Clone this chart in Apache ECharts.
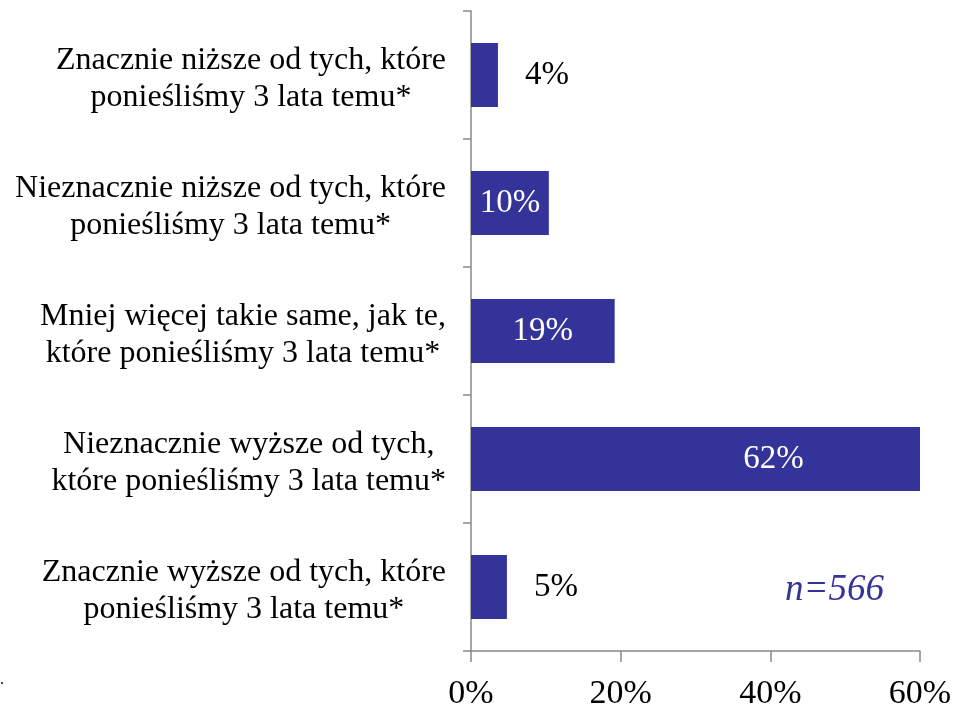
<!DOCTYPE html>
<html>
<head>
<meta charset="utf-8">
<script src="https://cdn.jsdelivr.net/npm/echarts@6/dist/echarts.min.js"></script>
<style>
html,body{margin:0;padding:0;background:#fff;}
#main{width:957px;height:711px;}
</style>
</head>
<body>
<div id="main"></div>
<script>
const categories = [
  'Znacznie niższe od tych, które\nponieśliśmy 3 lata temu*',
  'Nieznacznie niższe od tych, które\nponieśliśmy 3 lata temu*',
  'Mniej więcej takie same, jak te,\nktóre ponieśliśmy 3 lata temu*',
  'Nieznacznie wyższe od tych,\nktóre ponieśliśmy 3 lata temu*',
  'Znacznie wyższe od tych, które\nponieśliśmy 3 lata temu*'
];
const values = [3.6, 10.4, 19.2, 62, 4.8];
const xTicks = [0, 20, 40, 60];
const sampleNote = 'n=566';

const FONT = "'Liberation Serif', 'Times New Roman', serif";
const BAR = '#333399';

const seriesData = values.map(function (v, i) {
  const outside = v < 8;
  let label;
  if (outside) {
    label = { position: 'right', distance: 27, color: '#000' };
  } else if (v > xTicks[xTicks.length - 1]) {
    label = { position: 'inside', color: '#fff', offset: [78, 0] };
  } else {
    label = { position: 'inside', color: '#fff' };
  }
  return { value: v, label: label };
});

const chart = echarts.init(document.getElementById('main'), null, { renderer: 'canvas' });
chart.setOption({
  animation: false,
  backgroundColor: '#fff',
  grid: { left: 471, right: 37, top: 11, bottom: 59, containLabel: false },
  xAxis: {
    type: 'value',
    min: xTicks[0],
    max: xTicks[xTicks.length - 1],
    interval: xTicks[1] - xTicks[0],
    splitLine: { show: false },
    axisLine: { show: true, lineStyle: { color: '#888', width: 1.5 } },
    axisTick: { show: true, length: 11, lineStyle: { color: '#888', width: 1.5 } },
    axisLabel: {
      margin: 26,
      fontFamily: FONT,
      fontSize: 34,
      color: '#000',
      formatter: '{value}%'
    }
  },
  yAxis: {
    type: 'category',
    inverse: true,
    data: categories,
    axisLine: { show: true, lineStyle: { color: '#888', width: 1.5 } },
    axisTick: { show: true, length: 8, lineStyle: { color: '#888', width: 1.5 } },
    axisLabel: {
      margin: 25,
      align: 'right',
      color: '#000',
      fontFamily: FONT,
      fontSize: 32,
      lineHeight: 37,
      padding: [8, 0, 0, 0],
      formatter: function (v) {
        return v.split('\n').map(function (l) { return '{c|' + l + '}'; }).join('\n');
      },
      rich: {
        c: { align: 'center', fontFamily: FONT, fontSize: 32, lineHeight: 37, color: '#000' }
      }
    }
  },
  series: [{
    type: 'bar',
    data: seriesData,
    barCategoryGap: '50%',
    clip: true,
    itemStyle: { color: BAR },
    label: {
      show: true,
      fontFamily: FONT,
      fontSize: 33,
      formatter: function (p) { return Math.round(p.value) + '%'; }
    }
  }],
  graphic: [
    {
      type: 'text',
      left: 785,
      top: 572,
      style: { text: sampleNote, fontFamily: FONT, fontStyle: 'italic', fontSize: 37, fill: BAR }
    },
    {
      type: 'text',
      left: 0,
      top: 672,
      style: { text: '.', fontFamily: FONT, fontSize: 16, fill: '#000' }
    }
  ]
});
</script>
</body>
</html>
